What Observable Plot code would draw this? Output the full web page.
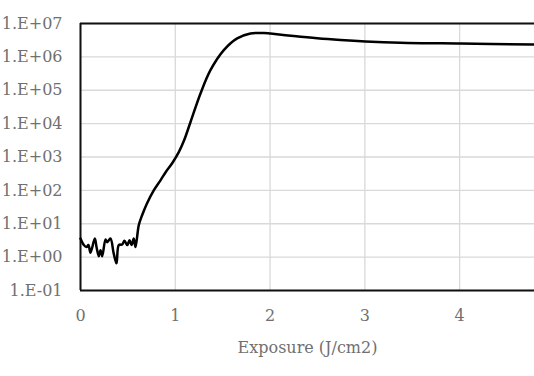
<!DOCTYPE html>
<html>
<head>
<meta charset="utf-8">
<script src="https://cdn.jsdelivr.net/npm/d3@7"></script>
<script src="https://cdn.jsdelivr.net/npm/@observablehq/plot@0.6"></script>
<style>
  html, body { margin: 0; padding: 0; background: #fff; }
  #chart svg { display: block; }
</style>
</head>
<body>
<div id="chart"></div>
<script>
const exposure = [0, 0.035, 0.063, 0.084, 0.105, 0.151, 0.169, 0.193, 0.211, 0.229, 0.264, 0.282, 0.316, 0.35, 0.38, 0.404, 0.44, 0.464, 0.493, 0.517, 0.538, 0.562, 0.58, 0.615, 0.65, 0.70, 0.773, 0.844, 0.90, 0.967, 1.037, 1.09, 1.16, 1.266, 1.371, 1.512, 1.653, 1.793, 1.934, 2.004, 2.25, 2.497, 2.743, 3.006, 3.376, 4.008, 4.79];
const signal = [3.6, 2.3, 2.0, 2.3, 1.35, 3.6, 2.0, 1.07, 1.6, 1.07, 3.4, 2.8, 3.6, 1.3, 0.65, 2.3, 2.4, 3.1, 2.3, 3.2, 2.3, 3.6, 2.0, 9.1, 18, 40, 100, 200, 355, 650, 1400, 3000, 1.1e4, 8e4, 4e5, 1.6e6, 3.6e6, 5.0e6, 5.2e6, 5.0e6, 4.2e6, 3.6e6, 3.2e6, 2.9e6, 2.65e6, 2.5e6, 2.35e6];
const xTicks = [0, 1, 2, 3, 4];
const yTicks = [1e-1, 1e0, 1e1, 1e2, 1e3, 1e4, 1e5, 1e6, 1e7];
const yTickLabels = ["1.E-01", "1.E+00", "1.E+01", "1.E+02", "1.E+03", "1.E+04", "1.E+05", "1.E+06", "1.E+07"];
const xDomain = [0, 4.79];
const yDomain = [1e-1, 1e7];
const xLabel = "Exposure (J/cm2)";

const data = exposure.map((x, i) => ({x, y: signal[i]}));
const font = "'DejaVu Serif', serif";
const textColor = "#707070";

const chart = Plot.plot({
  width: 534,
  height: 376,
  marginLeft: 80,
  marginTop: 23,
  marginRight: 0,
  marginBottom: 86,
  style: {fontFamily: font, fontSize: "16px", color: textColor, background: "#fff"},
  x: {domain: xDomain, ticks: xTicks},
  y: {type: "log", domain: yDomain, ticks: yTicks},
  marks: [
    Plot.gridX(xTicks, {stroke: "#d9d9d9", strokeOpacity: 1, strokeWidth: 1.3}),
    Plot.gridY(yTicks, {stroke: "#d9d9d9", strokeOpacity: 1, strokeWidth: 1.3}),
    Plot.axisX(xTicks, {tickSize: 0, tickPadding: 19, fontSize: 16, fill: textColor, label: null}),
    Plot.axisY(yTicks, {tickSize: 0, tickPadding: 18, fontSize: 16, fill: textColor, label: null,
      tickFormat: d => yTickLabels[yTicks.indexOf(d)]}),
    Plot.text([xLabel], {frameAnchor: "bottom", dy: 62, fontSize: 16, fill: textColor, text: d => d}),
    Plot.ruleY([yDomain[0], yDomain[1]], {stroke: "#111", strokeWidth: 2}),
    Plot.ruleX([xDomain[0]], {stroke: "#111", strokeWidth: 2}),
    Plot.line(data, {x: "x", y: "y", stroke: "#000", strokeWidth: 2.5, curve: "catmull-rom"})
  ]
});
document.getElementById("chart").appendChild(chart);
</script>
</body>
</html>
